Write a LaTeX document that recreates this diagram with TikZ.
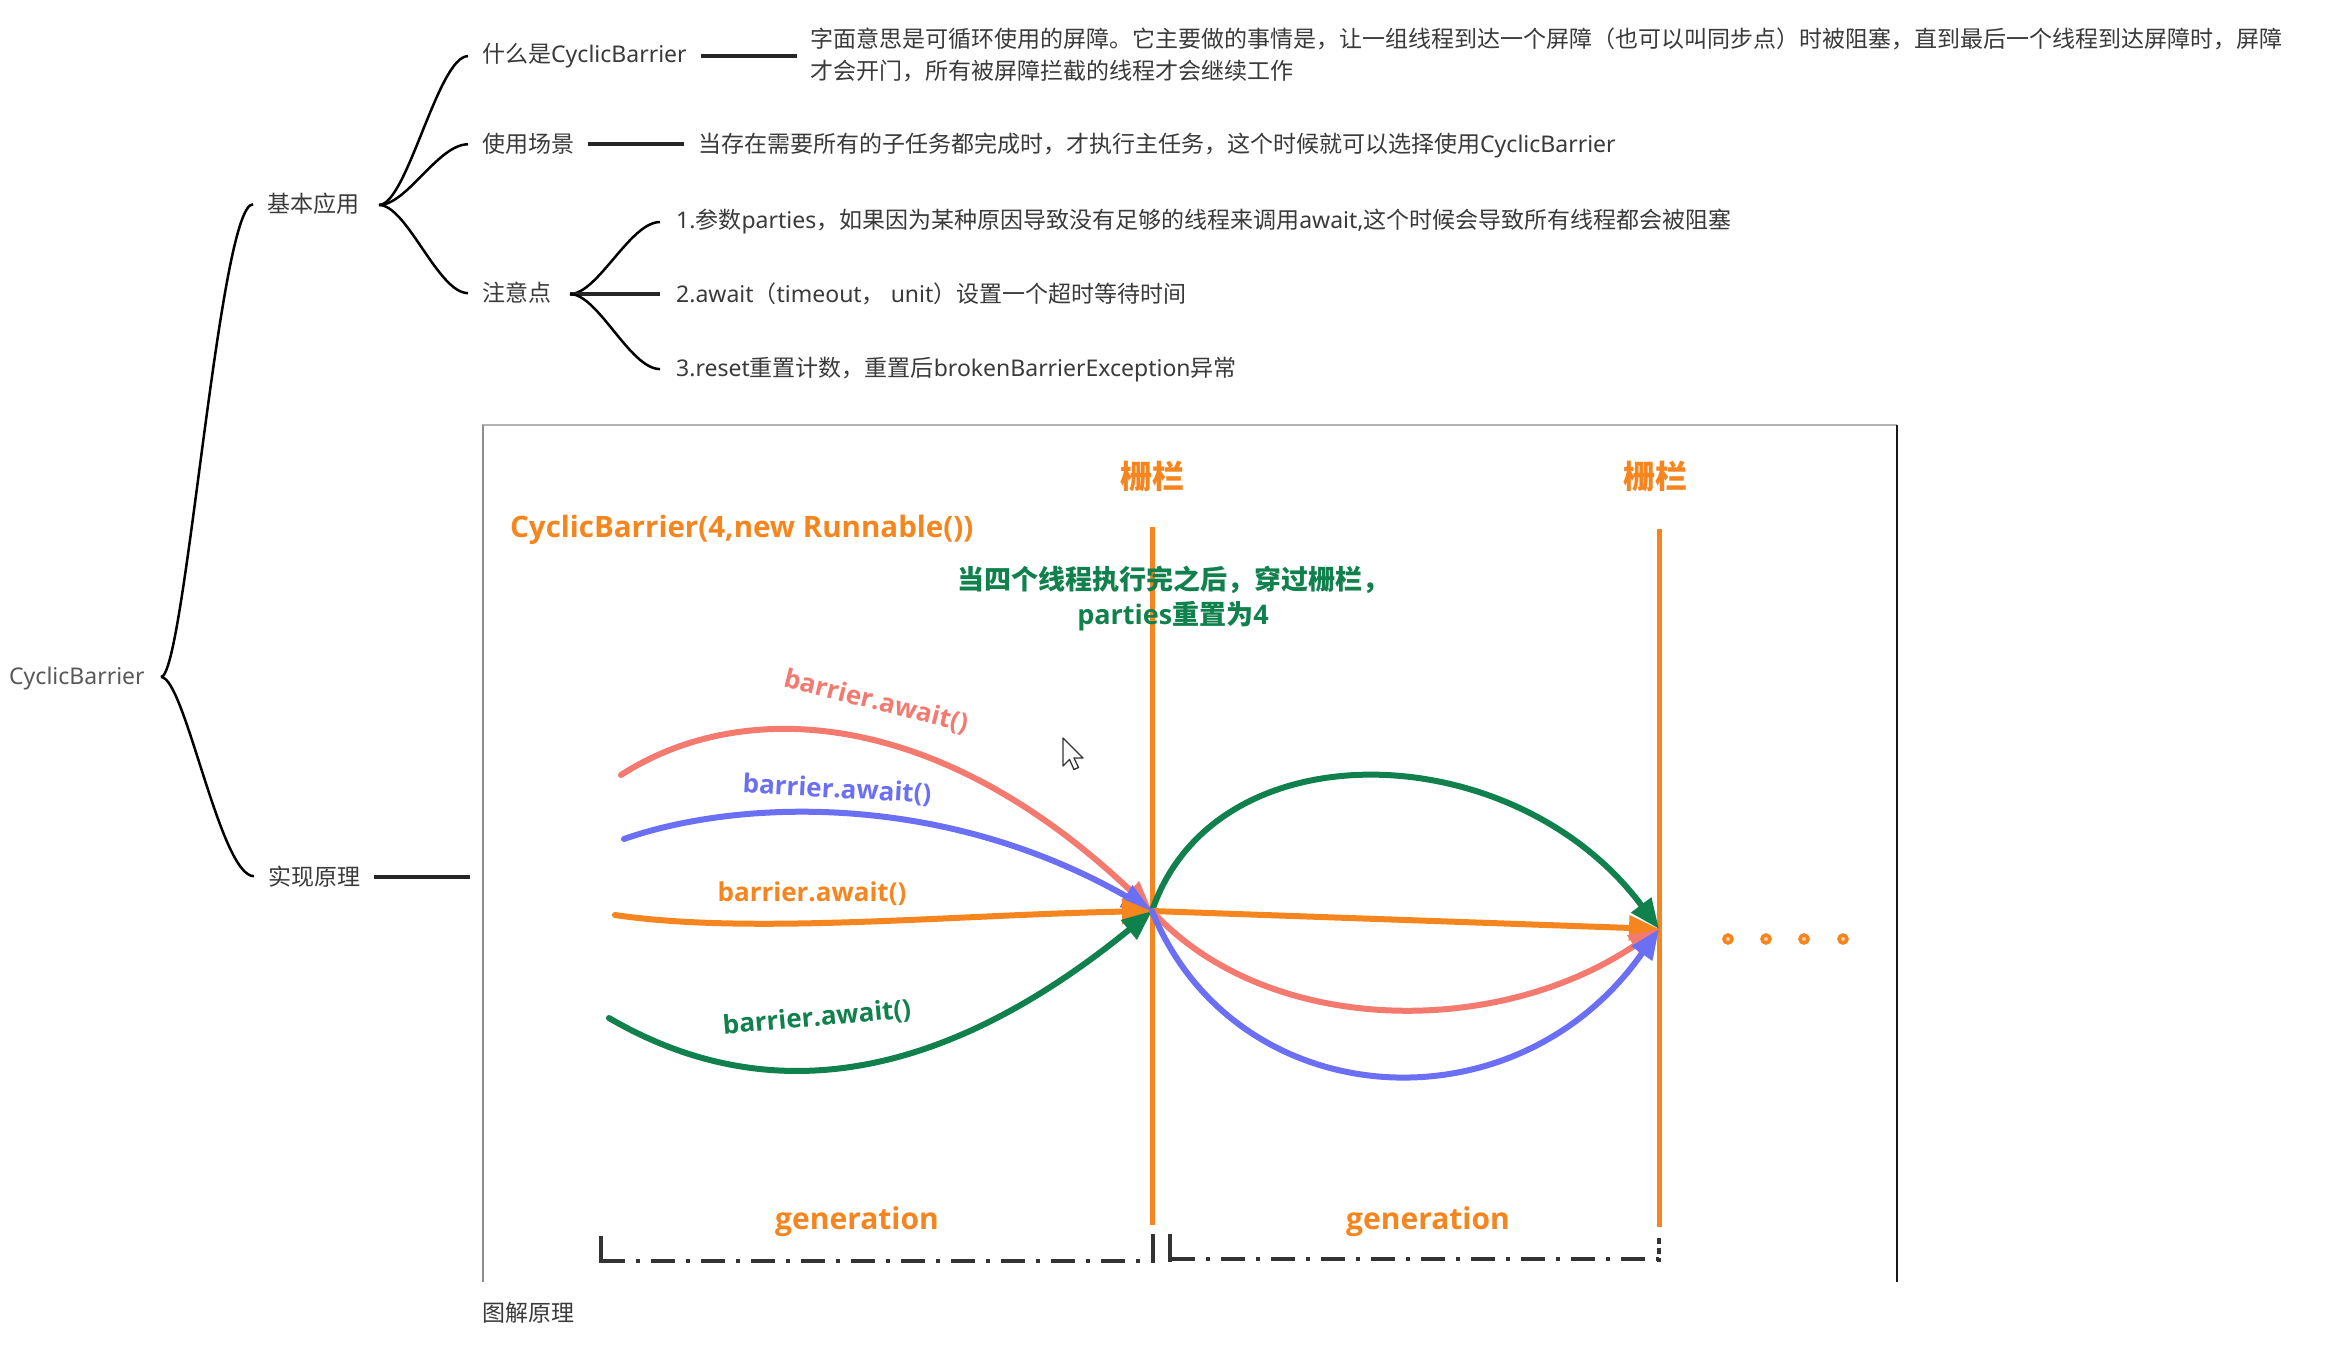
\documentclass[tikz,border=0pt]{standalone}
\usepackage{fontspec}
\setmainfont{Noto Sans}
\newfontfamily\cjkf{Noto Sans CJK SC}
\IfFontExistsTF{Open Sans Bold}{\newfontfamily\diagf{Open Sans Bold}}{%
  \IfFontExistsTF{Noto Sans Bold}{\newfontfamily\diagf{Noto Sans Bold}}{%
    \newfontfamily\diagf{Noto Sans}[FakeBold=2.5]}}
\newcommand\zh[1]{{\cjkf #1}}
\newcommand\zhb[1]{{\cjkf\bfseries #1}}
\usetikzlibrary{arrows.meta,calc}
\definecolor{dorange}{HTML}{F5861F}
\definecolor{dred}{HTML}{F47A70}
\definecolor{dblue}{HTML}{6A6FF4}
\definecolor{dgreen}{HTML}{10804D}
\definecolor{mmgray}{HTML}{3A3A3A}
\tikzset{
  mmtext/.style={font=\fontsize{23}{32}\selectfont, text=mmgray, inner sep=0pt, anchor=base west},
  mm/.style={line width=2.5pt, draw=black},
  mmbar/.style={line width=4pt, draw=black!85},
  thread/.style={line width=6pt, line cap=round, -{Triangle[length=30pt,width=24pt]}},
  barrier/.style={line width=5pt, draw=dorange},
  lbl/.style={font=\diagf\fontsize{26}{30}\selectfont, inner sep=0pt},
  genline/.style={line width=4pt, draw=black!80, dash pattern=on 24pt off 11pt on 4pt off 11pt},
  tick/.style={line width=4pt, draw=black!80},
}
\begin{document}
\begin{tikzpicture}[x=1pt,y=-1pt]
\fill[white] (0,0) rectangle (2340,1356);
\useasboundingbox (0,0) rectangle (2340,1356);

% ---------- mind map ----------
\node[mmtext, text=black!65] (root) at (9,684) {CyclicBarrier};
\node[mmtext] (basic) at (267,213) {\zh{基本应用}};
\node[mmtext] (impl) at (268,885) {\zh{实现原理}};
\node[mmtext] (what) at (482,63) {\zh{什么是}CyclicBarrier};
\node[mmtext] (scene) at (482,153) {\zh{使用场景}};
\node[mmtext] (note) at (482,302) {\zh{注意点}};
\node[mmtext, anchor=west, align=left] (desc) at (810,55) {\zh{字面意思是可循环使用的屏障。它主要做的事情是，让一组线程到达一个屏障（也可以叫同步点）时被阻塞，直到最后一个线程到达屏障时，屏障}\\\zh{才会开门，所有被屏障拦截的线程才会继续工作}};
\node[mmtext] (scenedesc) at (698,153) {\zh{当存在需要所有的子任务都完成时，才执行主任务，这个时候就可以选择使用}CyclicBarrier};
\node[mmtext] (n1) at (676,229) {1.\zh{参数}parties\zh{，如果因为某种原因导致没有足够的线程来调用}await,\zh{这个时候会导致所有线程都会被阻塞}};
\node[mmtext] (n2) at (676,303) {2.await\zh{（}timeout\zh{，} unit\zh{）设置一个超时等待时间}};
\node[mmtext] (n3) at (676,376) {3.reset\zh{重置计数，重置后}brokenBarrierException\zh{异常}};
\node[mmtext] (cap) at (482,1321) {\zh{图解原理}};

\coordinate (j0) at (161,677);
\coordinate (j1) at (379,205);
\coordinate (j2) at (570,294);
\coordinate (implend) at (470,877);

\draw[mm] (j0) .. controls +(24,0) and +(-34,0) .. ([xshift=-14pt]basic.west);
\draw[mm] (j0) .. controls +(24,0) and +(-34,0) .. ([xshift=-14pt]impl.west);
\draw[mm] (j1) .. controls +(28,0) and +(-30,0) .. ([xshift=-14pt]what.west);
\draw[mm] (j1) .. controls +(28,0) and +(-30,0) .. ([xshift=-14pt]scene.west);
\draw[mm] (j1) .. controls +(28,0) and +(-30,0) .. ([xshift=-14pt]note.west);
\draw[mm] (j2) .. controls +(28,0) and +(-30,0) .. ([xshift=-16pt]n1.west);
\draw[mmbar] (j2) -- ([xshift=-16pt]j2 -| n2.west);
\draw[mm] (j2) .. controls +(28,0) and +(-30,0) .. ([xshift=-16pt]n3.west);

\draw[mmbar] ([xshift=14pt]what.east) -- ($(what.east -| desc.west)+(-13,0)$);
\draw[mmbar] ([xshift=14pt]scene.east) -- ($(scene.east -| scenedesc.west)+(-14,0)$);
\draw[mmbar] ([xshift=14pt]impl.east |- implend) -- (implend);

% ---------- picture frame ----------
\draw[line width=1.5pt, draw=black!30] (482,425) -- (1897,425);
\draw[line width=1.5pt, draw=black!45] (483,425) -- (483,1282);
\draw[line width=2pt, draw=black!90] (1897,425) -- (1897,1282);

% ---------- diagram ----------
\coordinate (B1) at (1152,911);
\coordinate (B2) at (1659,929);

\draw[barrier] (1152,527) -- (1152,1225);
\draw[barrier] (1659,529) -- (1659,1227);
\node[lbl, text=dorange, font=\cjkf\bfseries\fontsize{32}{34}\selectfont] (f1) at (1152,476) {栅栏};
\node[lbl, text=dorange, font=\cjkf\bfseries\fontsize{32}{34}\selectfont] (f2) at (1655,476) {栅栏};

\node[lbl, text=dorange, font=\diagf\fontsize{29.5}{32}\selectfont, anchor=west] (ctor) at (510,530) {CyclicBarrier(4,new Runnable())};
\node[lbl, text=dgreen, align=center, font=\diagf\fontsize{27}{35}\selectfont] (reset) at (1173,598) {\zhb{当四个线程执行完之后，穿过栅栏，}\\parties\zhb{重置为}4};

% thread curves into first barrier
\draw[thread, dred] (621,775) .. controls (740,698) and (935,705) .. (B1);
\draw[thread, dblue] (624,839) .. controls (735,800) and (940,790) .. (B1);
\draw[thread, dorange] (615,915) .. controls (750,935) and (950,915) .. (B1);
\draw[thread, dgreen] (609,1018) .. controls (770,1112) and (945,1080) .. (B1);

% thread curves into second barrier
\draw[thread, dgreen] (B1) .. controls (1215,725) and (1515,735) .. (B2);
\draw[thread, dorange] (B1) -- (B2);
\draw[thread, dred] (B1) .. controls (1265,1035) and (1495,1040) .. (B2);
\draw[thread, dblue] (B1) .. controls (1235,1115) and (1515,1135) .. (B2);

\node[lbl, text=dred, rotate=-14] (l1) at (876,702) {barrier.await()};
\node[lbl, text=dblue, rotate=-3] (l2) at (837,790) {barrier.await()};
\node[lbl, text=dorange] (l3) at (812,894) {barrier.await()};
\node[lbl, text=dgreen, rotate=5] (l4) at (817,1018) {barrier.await()};

% dots
\foreach \xx in {1728,1766,1804,1843}
  \draw[dorange, line width=3.5pt, fill=dorange!40] (\xx,939) circle (4);

% cursor
\draw[black!80, fill=white, line width=1.3pt, line join=round] (1063,738) -- ++(0,28) -- ++(6.5,-6.5) -- ++(4.5,10) -- ++(4.5,-2) -- ++(-4.5,-9.5) -- ++(9,0) -- cycle;

% generation brackets
\node[lbl, text=dorange, font=\diagf\fontsize{30}{34}\selectfont] (g1) at (857,1222) {generation};
\node[lbl, text=dorange, font=\diagf\fontsize{30}{34}\selectfont] (g2) at (1428,1222) {generation};
\coordinate (a1) at (601,1261);
\coordinate (a2) at (1145,1261);
\coordinate (b1) at (1171,1259);
\coordinate (b2) at (1659,1259);
\draw[genline] (a1) -- (a2);
\draw[genline] (b1) -- (b2);
\draw[tick] (601,1236) -- (601,1263);
\draw[tick] (1153,1234) -- (1153,1263);
\draw[tick] (1170,1234) -- (1170,1262);
\draw[tick, dash pattern=on 6pt off 4pt] (1659,1238) -- (1659,1262);
\end{tikzpicture}
\end{document}
